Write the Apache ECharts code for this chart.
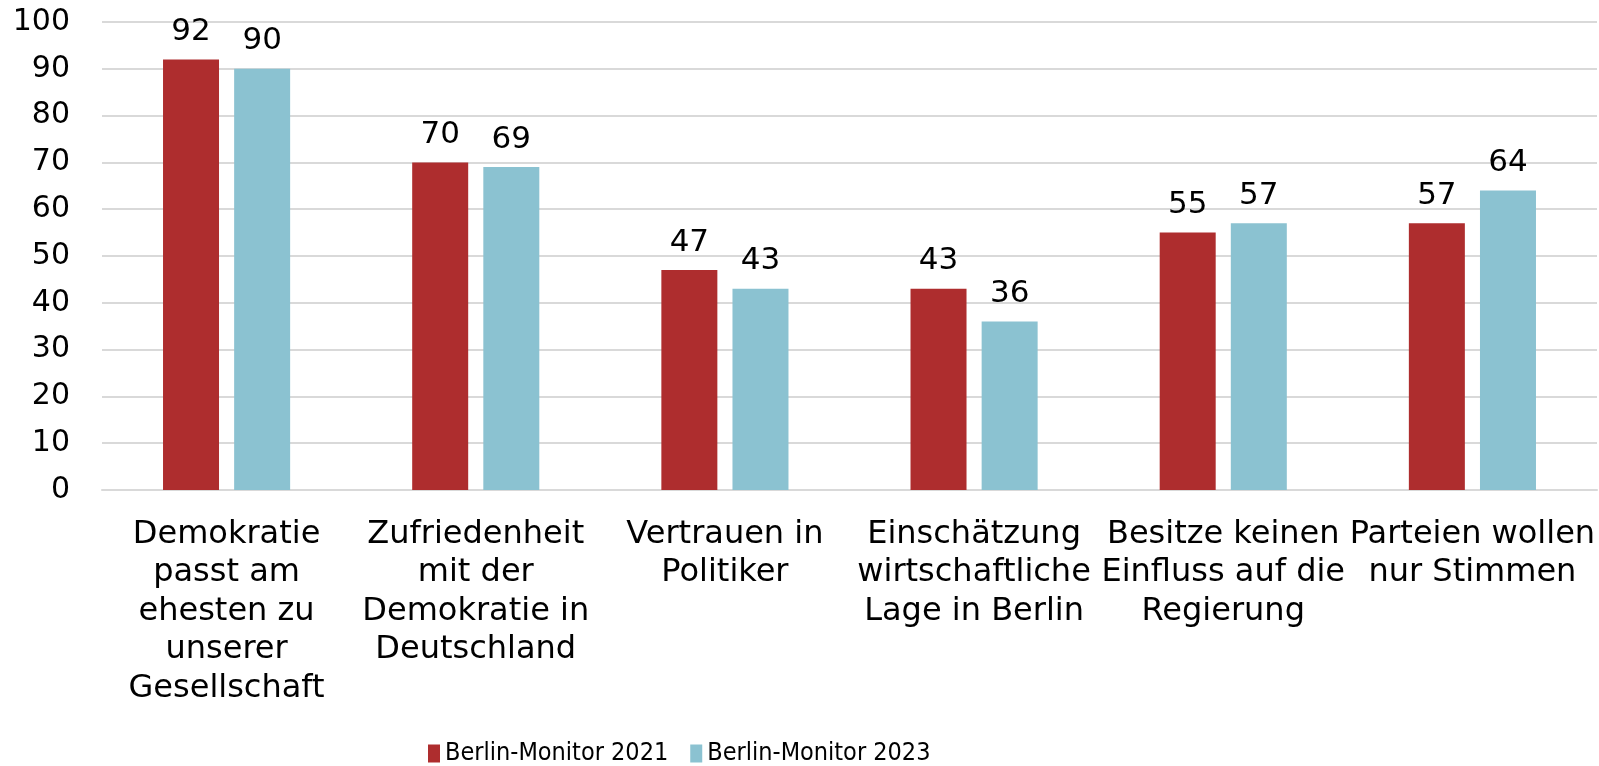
<!DOCTYPE html>
<html>
<head>
<meta charset="utf-8">
<script src="https://cdn.jsdelivr.net/npm/echarts@6.0.0/dist/echarts.min.js"></script>
<style>
  html, body { margin: 0; padding: 0; background: #fff; }
  #chart { width: 1599px; height: 766px; }
</style>
</head>
<body>
<div id="chart"></div>
<script>
// --- Data ---
const categories = [
    'Demokratie\npasst am\nehesten zu\nunserer\nGesellschaft',
    'Zufriedenheit\nmit der\nDemokratie in\nDeutschland',
    'Vertrauen in\nPolitiker',
    'Einschätzung\nwirtschaftliche\nLage in Berlin',
    'Besitze keinen\nEinfluss auf die\nRegierung',
    'Parteien wollen\nnur Stimmen'
];
const seriesNames = ['Berlin-Monitor 2021', 'Berlin-Monitor 2023'];
const values2021 = [92, 70, 47, 43, 55, 57];
const values2023 = [90, 69, 43, 36, 57, 64];
const yTicks = { min: 0, max: 100, interval: 10 };

// --- Chart ---
const FONT = '"DejaVu Sans", Verdana, sans-serif';
const chart = echarts.init(document.getElementById('chart'));

const barLabel = {
    show: true,
    position: 'top',
    distance: 12,
    color: '#000',
    fontFamily: FONT,
    fontSize: 31
};

chart.setOption({
    animation: false,
    grid: { left: 102, right: 2, top: 22, bottom: 276 },
    legend: {
        data: seriesNames,
        left: 423,
        top: 736,
        icon: 'rect',
        itemWidth: 12,
        itemHeight: 18,
        itemGap: 22,
        textStyle: { fontFamily: '"DejaVu Sans Condensed", sans-serif', fontSize: 25, color: '#000' }
    },
    xAxis: {
        type: 'category',
        data: categories,
        axisLine: { lineStyle: { color: '#d9d9d9', width: 2 } },
        axisTick: { show: false },
        axisLabel: {
            interval: 0,
            margin: 25,
            color: '#000',
            fontFamily: FONT,
            fontSize: 32,
            lineHeight: 38.5,
            align: 'center'
        }
    },
    yAxis: {
        type: 'value',
        min: yTicks.min,
        max: yTicks.max,
        interval: yTicks.interval,
        axisLine: { show: false },
        axisTick: { show: false },
        splitLine: { lineStyle: { color: '#d9d9d9', width: 2 } },
        axisLabel: { margin: 32, color: '#000', fontFamily: FONT, fontSize: 30 }
    },
    series: [
        {
            name: seriesNames[0],
            type: 'bar',
            data: values2021,
            itemStyle: { color: '#ae2d2e' },
            barWidth: 56,
            barGap: '27%',
            label: barLabel
        },
        {
            name: seriesNames[1],
            type: 'bar',
            data: values2023,
            itemStyle: { color: '#8bc2d1' },
            barWidth: 56,
            label: barLabel
        }
    ]
});
</script>
</body>
</html>
